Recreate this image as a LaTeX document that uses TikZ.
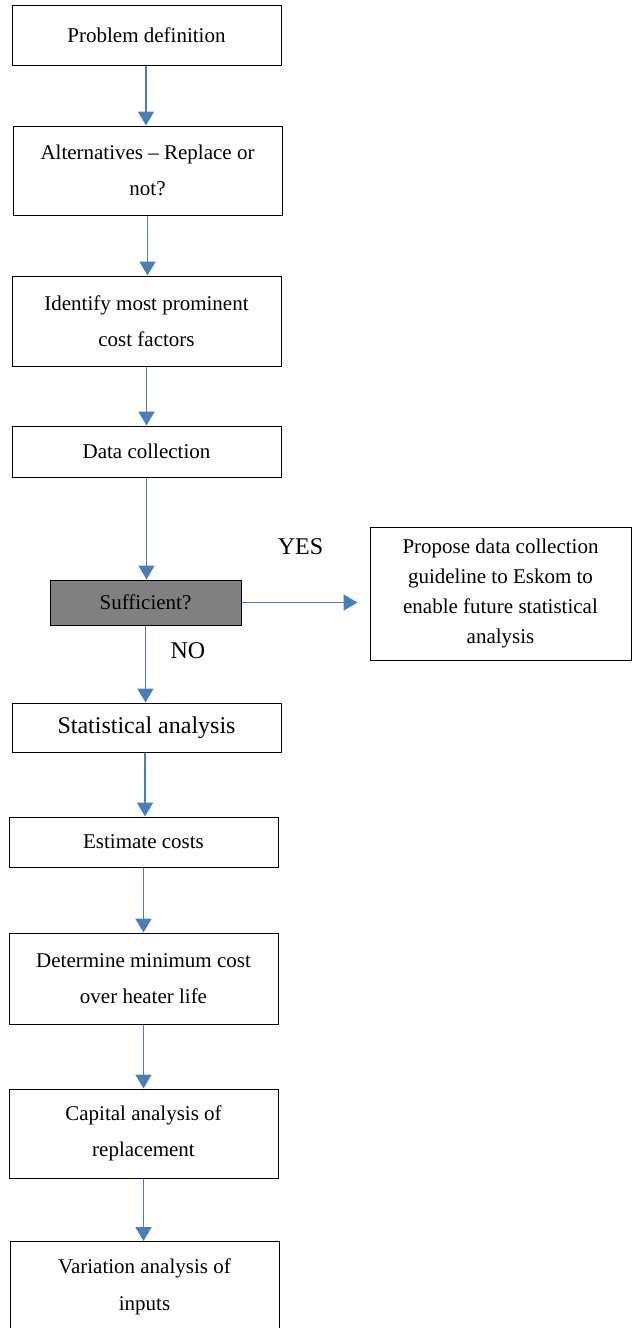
\documentclass[tikz,border=0pt]{standalone}
\usepackage{fontspec}
\setmainfont{Liberation Serif}
\usetikzlibrary{arrows.meta}
\definecolor{flowblue}{HTML}{4A7EBB}
\definecolor{decgray}{HTML}{808080}
\begin{document}
\begin{tikzpicture}[x=1pt,y=-1pt,
  box/.style={draw=black, line width=1pt, rectangle, align=center, inner sep=0pt,
              minimum width=269pt, font=\fontsize{21}{36.5}\selectfont},
  arr/.style={draw=flowblue, line width=1.8pt, -{Triangle[width=16pt,length=14pt]}},
  lbl/.style={font=\fontsize{24}{28}\selectfont, inner sep=0pt}]
\useasboundingbox (0,0) rectangle (632,1328);

% main process chain
\node[box, minimum height=60pt] (prob) at (146.5,35) {Problem definition};
\node[box, minimum height=89pt] (alt) at (147.5,170.5) {Alternatives – Replace or\\not?};
\node[box, minimum height=90pt] (ident) at (146.5,321) {Identify most prominent\\cost factors};
\node[box, minimum height=51pt] (data) at (146.5,451.5) {Data collection};
\node[box, minimum width=191pt, minimum height=45pt, fill=decgray] (suff) at (145.5,602.5) {Sufficient?};
\node[box, minimum width=261pt, minimum height=133pt, font=\fontsize{21}{30}\selectfont] (prop) at (500.5,593.5)
  {Propose data collection\\guideline to Eskom to\\enable future statistical\\analysis};
\node[box, minimum height=49pt, font=\fontsize{24}{28}\selectfont] (stat) at (146.5,727.5) {Statistical analysis};
\node[box, minimum height=50pt] (est) at (143.5,842) {Estimate costs};
\node[box, minimum height=91pt] (det) at (143.5,978.5) {Determine minimum cost\\over heater life};
\node[box, minimum height=89pt] (cap) at (143.5,1133.5) {Capital analysis of\\replacement};
\node[box, minimum height=91pt] (var) at (144.5,1287) {Variation analysis of\\inputs};

% decision labels
\node[lbl] (yes) at (300.5,546.5) {YES};
\node[lbl] (no) at (188,650.5) {NO};

% connectors
\draw[arr] ([xshift=-0.5pt]prob.south) -- ([xshift=-0.5pt]prob.south |- alt.north);
\draw[arr] (alt.south) -- (alt.south |- ident.north);
\draw[arr] (ident.south) -- (ident.south |- data.north);
\draw[arr] (data.south) -- (data.south |- suff.north);
\draw[arr, shorten >=12pt] (suff.east) -- (suff.east -| prop.west);
\draw[arr] (suff.south) -- (suff.south |- stat.north);
\draw[arr] ([xshift=-1.5pt]stat.south) -- ([xshift=-1.5pt]stat.south |- est.north);
\draw[arr] (est.south) -- (est.south |- det.north);
\draw[arr] (det.south) -- (det.south |- cap.north);
\draw[arr] (cap.south) -- (cap.south |- var.north);
\end{tikzpicture}
\end{document}
